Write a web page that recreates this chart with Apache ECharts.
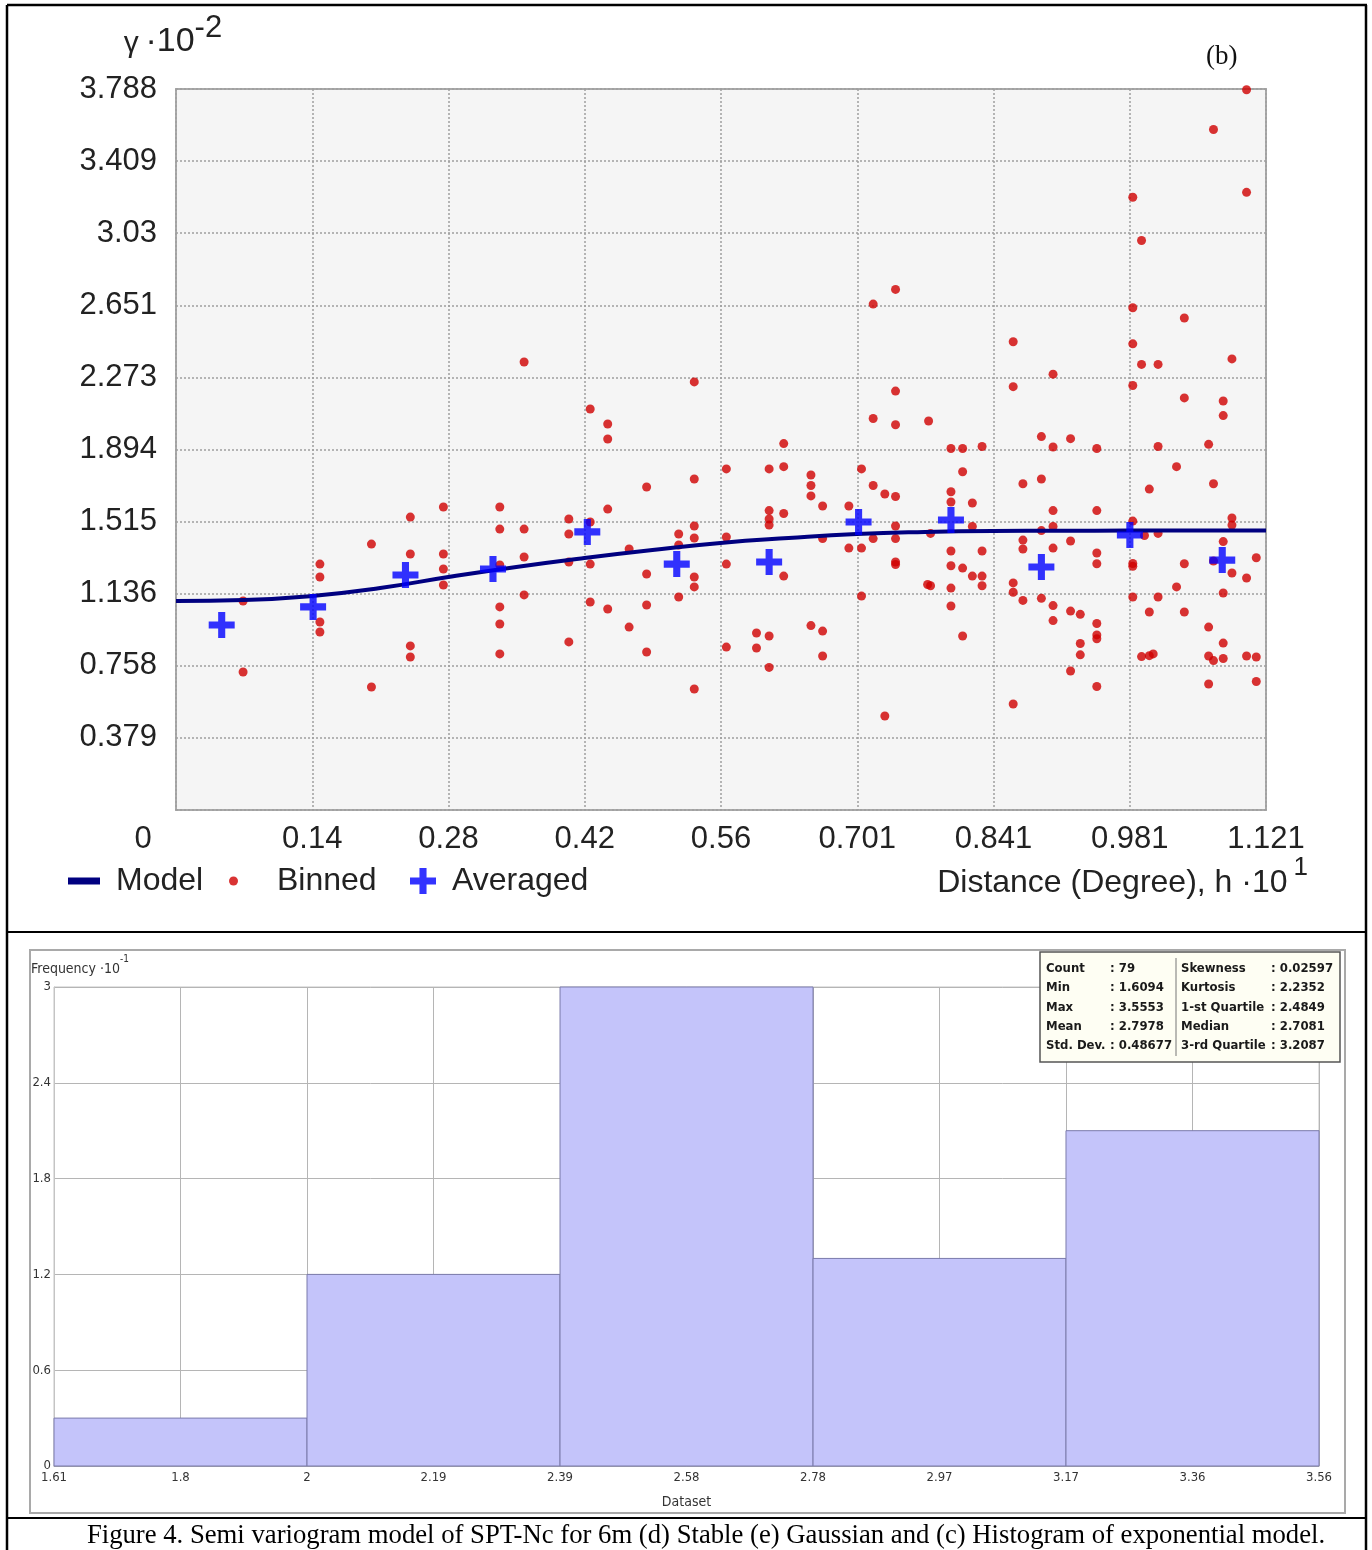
<!DOCTYPE html>
<html>
<head>
<meta charset="utf-8">
<script src="https://cdn.jsdelivr.net/npm/echarts@6/dist/echarts.min.js"></script>
<style>
html,body{margin:0;padding:0;background:#fff;}
#c{width:1372px;height:1550px;}
</style>
</head>
<body>
<div id="c"></div>
<script>
// ---------- Semivariogram (top) ----------
const xTickLabels = ['0','0.14','0.28','0.42','0.56','0.701','0.841','0.981','1.121'];
const yTickLabels = ['0','0.379','0.758','1.136','1.515','1.894','2.273','2.651','3.03','3.409','3.788'];
const xMax = 1.121, xStep = 0.140125;
const yMax = 3.788, yStep = 0.3788;

// Binned semivariogram cloud [distance, gamma]
const binned = [
 [0.069,1.098],[0.069,0.725],
 [0.148,1.292],[0.148,1.224],[0.148,0.988],[0.148,0.935],
 [0.201,1.397],[0.201,0.646],
 [0.241,1.539],[0.241,1.345],[0.241,0.862],[0.241,0.804],
 [0.275,1.592],[0.275,1.345],[0.275,1.266],[0.275,1.182],
 [0.333,1.592],[0.333,1.476],[0.333,1.287],[0.333,1.067],[0.333,0.977],[0.333,0.820],
 [0.358,2.354],[0.358,1.476],[0.358,1.329],[0.358,1.130],
 [0.404,1.529],[0.404,1.450],[0.404,1.303],[0.404,0.883],
 [0.426,2.107],[0.426,1.513],[0.426,1.292],[0.426,1.093],
 [0.444,2.028],[0.444,1.949],[0.444,1.581],[0.444,1.056],
 [0.466,1.371],[0.466,0.961],
 [0.484,1.697],[0.484,1.240],[0.484,1.077],[0.484,0.830],
 [0.517,1.450],[0.517,1.392],[0.517,1.119],
 [0.533,2.249],[0.533,1.739],[0.533,1.492],[0.533,1.429],[0.533,1.224],[0.533,1.172],[0.533,0.636],
 [0.566,1.792],[0.566,1.434],[0.566,1.292],[0.566,0.856],
 [0.597,0.930],[0.597,0.851],
 [0.610,1.792],[0.610,1.573],[0.610,1.529],[0.610,1.497],[0.610,0.914],[0.610,0.749],
 [0.625,1.925],[0.625,1.804],[0.625,1.558],[0.625,1.229],
 [0.653,1.760],[0.653,1.705],[0.653,1.650],[0.653,0.969],
 [0.665,1.597],[0.665,1.426],[0.665,0.940],[0.665,0.809],
 [0.692,1.597],[0.692,1.376],
 [0.705,1.792],[0.705,1.376],[0.705,1.124],
 [0.717,2.658],[0.717,2.057],[0.717,1.705],[0.717,1.426],
 [0.729,1.660],[0.729,0.494],
 [0.740,2.735],[0.740,2.201],[0.740,2.024],[0.740,1.647],[0.740,1.492],[0.740,1.426],[0.740,1.303],[0.740,1.290],
 [0.774,2.044],[0.776,1.453],[0.776,1.178],[0.773,1.185],
 [0.797,1.899],[0.797,1.672],[0.797,1.618],[0.797,1.361],[0.797,1.283],[0.797,1.166],[0.797,1.072],
 [0.809,1.899],[0.809,1.777],[0.809,1.271],[0.809,0.914],
 [0.819,1.613],[0.819,1.490],[0.819,1.229],
 [0.829,1.910],[0.829,1.361],[0.829,1.229],[0.829,1.178],
 [0.861,2.460],[0.861,2.224],[0.861,1.193],[0.861,1.144],[0.861,0.557],
 [0.871,1.714],[0.871,1.418],[0.871,1.371],[0.871,1.101],
 [0.890,1.962],[0.890,1.739],[0.890,1.468],[0.890,1.112],
 [0.902,2.290],[0.902,1.907],[0.902,1.573],[0.902,1.490],[0.902,1.376],[0.902,1.074],[0.902,0.995],
 [0.920,1.951],[0.920,1.413],[0.920,1.045],[0.920,0.730],
 [0.930,1.028],[0.930,0.875],[0.930,0.815],
 [0.947,1.899],[0.947,1.573],[0.947,1.350],[0.947,1.294],[0.947,0.980],[0.947,0.920],[0.947,0.900],[0.947,0.649],
 [0.984,3.219],[0.984,2.639],[0.984,2.449],[0.984,2.230],[0.984,1.518],[0.984,1.295],[0.984,1.280],[0.984,1.119],
 [0.993,2.992],[0.993,2.341],[0.993,0.806],
 [0.996,1.442],
 [1.001,1.686],[1.001,1.040],[1.001,0.811],[1.005,0.820],
 [1.010,2.341],[1.010,1.910],[1.010,1.453],[1.010,1.119],
 [1.029,1.804],[1.029,1.172],
 [1.037,2.585],[1.037,2.165],[1.037,1.294],[1.037,1.040],
 [1.062,1.921],[1.062,0.961],[1.062,0.809],[1.062,0.662],
 [1.067,3.575],[1.067,1.714],[1.067,1.308],[1.067,0.785],
 [1.077,2.149],[1.077,2.072],[1.077,1.410],[1.077,1.140],[1.077,0.877],[1.077,0.796],
 [1.086,2.370],[1.086,1.534],[1.086,1.497],[1.086,1.245],
 [1.101,3.784],[1.101,3.245],[1.101,1.219],[1.101,0.809],
 [1.111,1.325],[1.111,0.804],[1.111,0.675]
];

// Averaged (binned means)
const averaged = [
 [0.047,0.972],[0.141,1.067],[0.236,1.235],[0.326,1.266],[0.423,1.461],[0.515,1.292],
 [0.610,1.303],[0.702,1.513],[0.797,1.524],[0.890,1.277],[0.981,1.445],[1.076,1.313]
];

// Fitted model curve
const modelCurve = [
 [0,1.098],[0.07,1.103],[0.14,1.124],[0.21,1.166],[0.28,1.224],[0.35,1.277],[0.42,1.324],
 [0.49,1.366],[0.56,1.403],[0.63,1.429],[0.70,1.450],[0.77,1.461],[0.84,1.466],[0.91,1.467],
 [0.98,1.468],[1.121,1.468]
];

// ---------- Histogram (bottom) ----------
const histEdges = [1.6094, 1.9986, 2.3878, 2.777, 3.1661, 3.5553];
const histFreq = [0.3, 1.2, 3.0, 1.3, 2.1];
const histTickLabels = ['1.61','1.8','2','2.19','2.39','2.58','2.78','2.97','3.17','3.36','3.56'];
const histYLabels = ['0','0.6','1.2','1.8','2.4','3'];
const histMin = 1.6094, histMax = 3.5553, histStep = 0.19459;

const statNamesL = ['Count','Min','Max','Mean','Std. Dev.'];
const statValsL = [': 79',': 1.6094',': 3.5553',': 2.7978',': 0.48677'];
const statNamesR = ['Skewness','Kurtosis','1-st Quartile','Median','3-rd Quartile'];
const statValsR = [': 0.02597',': 2.2352',': 2.4849',': 2.7081',': 3.2087'];

const caption = 'Figure 4. Semi variogram model of SPT-Nc for 6m (d) Stable (e) Gaussian and (c) Histogram of exponential model.';

const SANS = "'Liberation Sans', Arial, sans-serif";
const NARROW = "'Liberation Sans Narrow', 'DejaVu Sans Condensed', 'Liberation Sans', sans-serif";
const STATFONT = "'DejaVu Sans Condensed', 'Liberation Sans Narrow', 'DejaVu Sans', sans-serif";
const PLUS = 'path://M4,0H7V4H11V7H7V11H4V7H0V4H4Z';

const chart = echarts.init(document.getElementById('c'), null, {renderer:'canvas'});

const statGraphics = [];
const rowY = [969, 988, 1008, 1027, 1046];
const SF = "bold 13px " + STATFONT;
statNamesL.forEach((t,i)=>{
  statGraphics.push({type:'text', z:101, style:{text:t, x:1046, y:rowY[i], font:SF, fill:'#1a1a1a', textVerticalAlign:'middle'}});
  statGraphics.push({type:'text', z:101, style:{text:statValsL[i], x:1110, y:rowY[i], font:SF, fill:'#1a1a1a', textVerticalAlign:'middle'}});
});
statNamesR.forEach((t,i)=>{
  statGraphics.push({type:'text', z:101, style:{text:t, x:1181, y:rowY[i], font:SF, fill:'#1a1a1a', textVerticalAlign:'middle'}});
  statGraphics.push({type:'text', z:101, style:{text:statValsR[i], x:1271, y:rowY[i], font:SF, fill:'#1a1a1a', textVerticalAlign:'middle'}});
});

const option = {
  backgroundColor:'#ffffff',
  animation:false,
  title:{text:'(b)', left:1201, top:38, textStyle:{fontFamily:"'Liberation Serif', 'Times New Roman', serif", fontSize:27, fontWeight:'normal', color:'#111'}},
  grid:[
    {left:176, top:89, width:1090, height:721, show:true, backgroundColor:'#f5f5f5', borderColor:'#a9a9a9', borderWidth:2, outerBoundsMode:'none', containLabel:false},
    {left:54, top:987, width:1265, height:479, show:true, backgroundColor:'#ffffff', borderColor:'#c4c4c4', borderWidth:1, outerBoundsMode:'none', containLabel:false}
  ],
  legend:[
    {data:['Model'], left:68, top:859, padding:0, icon:'rect', itemWidth:32, itemHeight:7,
     textStyle:{fontFamily:SANS, fontSize:32, color:'#222', lineHeight:44, padding:[0,0,0,11]}},
    {data:['Binned'], left:229, top:859, padding:0, icon:'circle', itemWidth:9, itemHeight:9,
     textStyle:{fontFamily:SANS, fontSize:32, color:'#222', lineHeight:44, padding:[0,0,0,34]}},
    {data:[{name:'Averaged', icon:PLUS}], left:410, top:859, padding:0, itemWidth:26, itemHeight:26,
     textStyle:{fontFamily:SANS, fontSize:32, color:'#222', lineHeight:44, padding:[0,0,0,11]}}
  ],
  xAxis:[
    {type:'value', gridIndex:0, min:0, max:xMax, interval:xStep,
     name:'{n|Distance (Degree), h ·10}{s|1}', nameLocation:'end', nameGap:42,
     nameTextStyle:{align:'right', verticalAlign:'top', padding:[45,0,0,0],
       rich:{n:{fontFamily:SANS, fontSize:32, color:'#222', lineHeight:44, verticalAlign:'bottom'},
             s:{fontFamily:SANS, fontSize:26, color:'#222', lineHeight:44, verticalAlign:'top', padding:[0,0,0,6]}}},
     axisLine:{show:false}, axisTick:{show:false},
     axisLabel:{margin:14, fontFamily:SANS, fontSize:31, color:'#222',
       formatter:function(v){const i=Math.round(v/xStep); return i===0 ? '{z|'+xTickLabels[0]+'}' : xTickLabels[i];},
       rich:{z:{fontFamily:SANS, fontSize:31, color:'#222', padding:[0,66,0,0]}}},
     splitLine:{show:true, lineStyle:{color:'#9e9e9e', width:1.5, type:[2,2]}}},
    {type:'value', gridIndex:1, min:histMin, max:histMax, interval:histStep,
     name:'Dataset', nameLocation:'middle', nameGap:29,
     nameTextStyle:{fontFamily:NARROW, fontSize:14, color:'#333'},
     axisLine:{show:true, lineStyle:{color:'#aaaaaa'}}, axisTick:{show:false},
     axisLabel:{margin:5, fontFamily:NARROW, fontSize:13, color:'#333',
       formatter:function(v){return histTickLabels[Math.round((v-histMin)/histStep)];}},
     splitLine:{show:true, lineStyle:{color:'#b5b5b5', width:1}}}
  ],
  yAxis:[
    {type:'value', gridIndex:0, min:0, max:yMax, interval:yStep,
     name:'{g|γ}  {n|·10}{s|-2}', nameLocation:'end', nameGap:30,
     nameTextStyle:{align:'center', padding:[0,6,0,0],
       rich:{g:{fontFamily:SANS, fontSize:30, color:'#222', lineHeight:46, verticalAlign:'bottom'},
             n:{fontFamily:SANS, fontSize:34, color:'#222', lineHeight:46, verticalAlign:'bottom'},
             s:{fontFamily:SANS, fontSize:31, color:'#222', lineHeight:46, verticalAlign:'top'}}},
     axisLine:{show:false}, axisTick:{show:false},
     axisLabel:{margin:19, fontFamily:SANS, fontSize:31, color:'#222', showMinLabel:false,
       formatter:function(v){return yTickLabels[Math.round(v/yStep)];}},
     splitLine:{show:true, lineStyle:{color:'#9e9e9e', width:1.5, type:[2,2]}}},
    {type:'value', gridIndex:1, min:0, max:3, interval:0.6,
     name:'{a|Frequency ·10}{s|-1}', nameLocation:'end', nameGap:11,
     nameTextStyle:{align:'center',
       rich:{a:{fontFamily:NARROW, fontSize:14, color:'#333', lineHeight:22, verticalAlign:'bottom', padding:[0,0,0,52]},
             s:{fontFamily:NARROW, fontSize:10, color:'#333', lineHeight:22, verticalAlign:'top'}}},
     axisLine:{show:true, lineStyle:{color:'#c4c4c4'}}, axisTick:{show:false},
     axisLabel:{margin:3, fontFamily:NARROW, fontSize:13, color:'#333',
       formatter:function(v){return histYLabels[Math.round(v/0.6)];}},
     splitLine:{show:true, lineStyle:{color:'#b5b5b5', width:1}}}
  ],
  series:[
    {name:'Binned', type:'scatter', xAxisIndex:0, yAxisIndex:0, data:binned,
     symbol:'circle', symbolSize:9, itemStyle:{color:'#d00000'}, z:2},
    {name:'Model', type:'line', xAxisIndex:0, yAxisIndex:0, data:modelCurve, smooth:true,
     showSymbol:false, symbol:'none', color:'#000080', lineStyle:{color:'#000080', width:4}, z:3},
    {name:'Averaged', type:'scatter', xAxisIndex:0, yAxisIndex:0, data:averaged,
     symbol:PLUS, symbolSize:26, itemStyle:{color:'#0000ff'}, z:4},
    {name:'Histogram', type:'custom', xAxisIndex:1, yAxisIndex:1,
     data: histFreq.map((f,i)=>[histEdges[i], histEdges[i+1], f]),
     encode:{x:[0,1], y:2},
     renderItem:function(params, api){
       const p0 = api.coord([api.value(0), api.value(2)]);
       const p1 = api.coord([api.value(1), 0]);
       return {type:'rect', shape:{x:p0[0], y:p0[1], width:p1[0]-p0[0], height:p1[1]-p0[1]},
               style:{fill:'#c4c4fa', stroke:'#7b7bab', lineWidth:1}};
     }, z:3}
  ],
  graphic:[
    // figure frame
    {type:'line', z:100, shape:{x1:7, y1:5, x2:1367, y2:5}, style:{stroke:'#000', lineWidth:2.5}},
    {type:'line', z:100, shape:{x1:7, y1:5, x2:7, y2:1550}, style:{stroke:'#000', lineWidth:2.5}},
    {type:'line', z:100, shape:{x1:1366, y1:5, x2:1366, y2:1550}, style:{stroke:'#000', lineWidth:2.5}},
    {type:'line', z:100, shape:{x1:7, y1:932, x2:1366, y2:932}, style:{stroke:'#000', lineWidth:2}},
    {type:'line', z:100, shape:{x1:7, y1:1518, x2:1366, y2:1518}, style:{stroke:'#000', lineWidth:2}},
    // histogram panel border
    {type:'rect', z:1, shape:{x:30, y:950, width:1315, height:563}, style:{fill:'none', stroke:'#a9a9a9', lineWidth:2}},
    // stats box
    {type:'rect', z:100, shape:{x:1040, y:952, width:300, height:110}, style:{fill:'#fefef3', stroke:'#555', lineWidth:1.5}},
    {type:'line', z:101, shape:{x1:1176, y1:958, x2:1176, y2:1056}, style:{stroke:'#777', lineWidth:1}},
    ...statGraphics,
    // caption
    {type:'text', z:100, style:{text:caption, x:706, y:1536, textAlign:'center', textVerticalAlign:'middle',
      font:"26.7px 'Liberation Serif', 'Times New Roman', serif", fill:'#000'}}
  ]
};
chart.setOption(option);
</script>
</body>
</html>
